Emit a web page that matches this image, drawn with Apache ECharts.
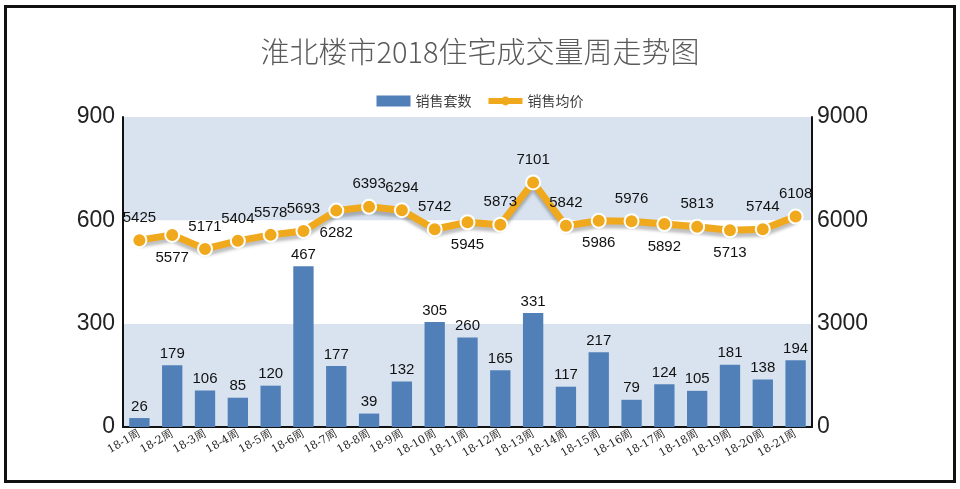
<!DOCTYPE html>
<html>
<head>
<meta charset="utf-8">
<script src="https://cdn.jsdelivr.net/npm/echarts@6/dist/echarts.min.js"></script>
<style>
  html, body { margin: 0; padding: 0; background: #fff; }
  #frame { position: absolute; left: 4px; top: 5px; width: 946px; height: 472px; border: 3px solid #111; }
  #chart { width: 960px; height: 489px; }
</style>
</head>
<body>
<div id="frame"></div>
<div id="chart"></div>
<script>
// 周次
var weeks = ['18-1周', '18-2周', '18-3周', '18-4周', '18-5周', '18-6周', '18-7周', '18-8周', '18-9周', '18-10周',
  '18-11周', '18-12周', '18-13周', '18-14周', '18-15周', '18-16周', '18-17周', '18-18周', '18-19周', '18-20周', '18-21周'];
// 销售套数
var units = [26, 179, 106, 85, 120, 467, 177, 39, 132, 305, 260, 165, 331, 117, 217, 79, 124, 105, 181, 138, 194];
// 销售均价
var prices = [5425, 5577, 5171, 5404, 5578, 5693, 6282, 6393, 6294, 5742, 5945, 5873, 7101, 5842, 5986, 5976, 5892, 5813, 5713, 5744, 6108];
// 均价标签在点的上方还是下方
var pricePos = ['top', 'bottom', 'top', 'top', 'top', 'top', 'bottom', 'top', 'top', 'top', 'bottom',
  'top', 'top', 'top', 'bottom', 'top', 'bottom', 'top', 'bottom', 'top', 'top'];

var chart = echarts.init(document.getElementById('chart'));
var option = {
  animation: false,
  title: {
    text: '淮北楼市2018住宅成交量周走势图',
    left: 'center',
    top: 32,
    textStyle: { fontFamily: 'Noto Sans CJK SC', fontWeight: 300, fontSize: 29, color: '#5a5a5a' }
  },
  legend: {
    top: 89,
    left: 'center',
    itemGap: 14,
    itemWidth: 34,
    itemHeight: 11,
    textStyle: { fontFamily: 'Noto Sans CJK SC', fontSize: 14, color: '#404040' },
    data: [
      { name: '销售套数', icon: 'rect' },
      { name: '销售均价', itemStyle: { borderWidth: 0 }, lineStyle: { width: 6 } }
    ]
  },
  grid: { left: 123, right: 148, top: 117, bottom: 62 },
  xAxis: {
    type: 'category',
    data: weeks,
    axisLine: { lineStyle: { color: '#111', width: 2 } },
    axisTick: { show: false },
    axisLabel: {
      interval: 0,
      rotate: 30,
      fontFamily: 'DejaVu Serif',
      fontSize: 11,
      color: '#222',
      margin: 6
    }
  },
  yAxis: [
    {
      type: 'value',
      min: 0, max: 900, interval: 300,
      axisLine: { show: true, lineStyle: { color: '#111', width: 2 } },
      axisLabel: { fontFamily: 'Liberation Sans', fontSize: 23, color: '#222', margin: 8 },
      splitLine: { show: false },
      splitArea: { show: true, areaStyle: { color: ['#d9e3ef', '#ffffff', '#d9e3ef'] } }
    },
    {
      type: 'value',
      min: 0, max: 9000, interval: 3000,
      axisLine: { show: true, lineStyle: { color: '#111', width: 2 } },
      axisLabel: {
        fontFamily: 'Liberation Sans', fontSize: 23, color: '#222', margin: 5,
        formatter: function (v) { return String(v); }
      },
      splitLine: { show: false }
    }
  ],
  series: [
    {
      name: '销售套数',
      type: 'bar',
      data: units,
      barWidth: '62%',
      itemStyle: { color: '#5180b8' },
      label: { show: true, position: 'top', fontFamily: 'Liberation Sans', fontSize: 15, color: '#111', distance: 4 }
    },
    {
      name: '销售均价',
      type: 'line',
      yAxisIndex: 1,
      data: prices.map(function (v, i) {
        return { value: v, label: { position: pricePos[i] } };
      }),
      symbol: 'circle',
      symbolSize: 14,
      lineStyle: { color: '#f0a81c', width: 7, shadowColor: 'rgba(0,0,0,0.25)', shadowOffsetY: 4, shadowBlur: 3 },
      itemStyle: { color: '#f0a81c', borderColor: '#fff', borderWidth: 2 },
      label: { show: true, fontFamily: 'Liberation Sans', fontSize: 15, color: '#111', distance: 7 }
    }
  ]
};
chart.setOption(option);
</script>
</body>
</html>
